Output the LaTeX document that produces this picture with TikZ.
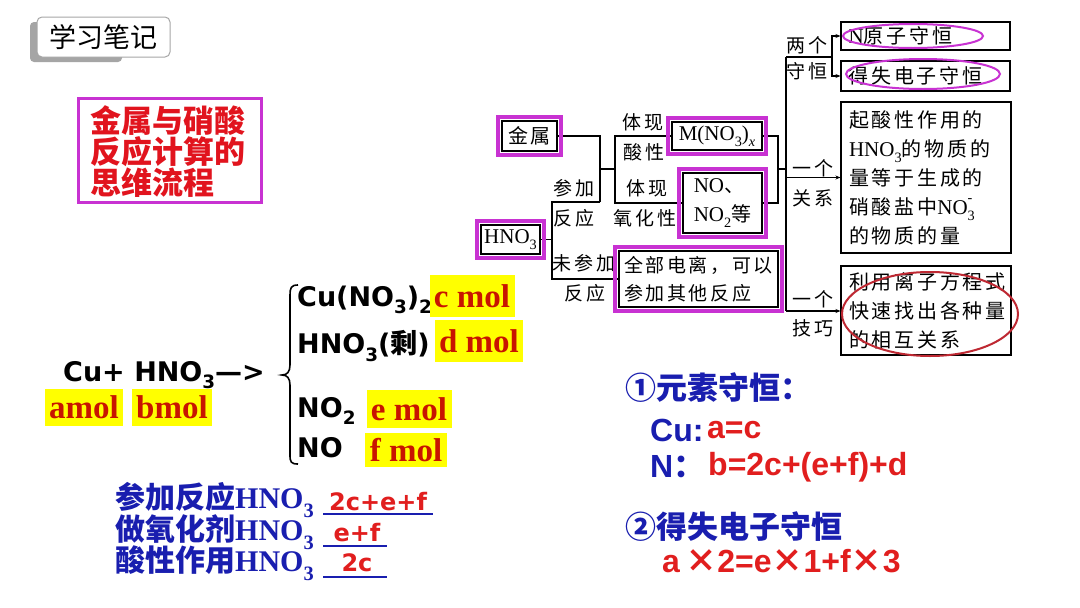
\documentclass[tikz,border=0pt]{standalone}
\usepackage{fontspec}
\usepackage{graphicx}
\usetikzlibrary{arrows.meta}
\setmainfont{Liberation Serif}
\newfontfamily\cjk{Noto Sans CJK SC}
\newfontfamily\cjkw[LetterSpace=14]{Noto Sans CJK SC}
\newfontfamily\dvs{DejaVu Sans}
\newfontfamily\lib{Liberation Sans}
\newcommand\fsz[2]{\fontsize{#1}{#2}\selectfont}
\newcommand\dn[1]{\raisebox{-0.28em}{\scalebox{0.68}{#1}}}
\newcommand\up[1]{\raisebox{0.55em}{\scalebox{0.68}{#1}}}
\newcommand\ser[1]{{\rmfamily\fsz{21}{24}#1}}
\definecolor{magc}{RGB}{200,50,210}
\definecolor{titred}{RGB}{225,20,30}
\definecolor{hiyel}{RGB}{255,255,0}
\definecolor{molred}{RGB}{200,20,0}
\definecolor{blu}{RGB}{25,30,175}
\definecolor{ansred}{RGB}{225,30,30}
\definecolor{ellred}{RGB}{190,40,50}
\definecolor{tabgray}{RGB}{165,165,165}
\tikzset{
  line/.style={line width=1.1pt, draw=black},
  arr/.style={line, -{Stealth[length=5pt,width=4pt]}},
  box/.style={draw=black, line width=1.1pt, inner sep=0pt, font=\cjkw\fsz{20}{29}},
  mag/.style={draw=magc, line width=3.5pt},
  lbl/.style={inner sep=0pt, font=\cjkw\fsz{19}{22}},
  yel/.style={fill=hiyel, inner sep=0pt, text=molred, font=\rmfamily\bfseries\fsz{33}{36}},
  chem/.style={inner sep=0pt, anchor=west, font=\dvs\bfseries\fsz{27}{30}},
  bl/.style={inner sep=0pt, anchor=west, text=blu},
  ans/.style={inner sep=0pt, text=ansred, font=\dvs\bfseries\fsz{24}{26}},
  rb/.style={inner sep=0pt, anchor=west, font=\lib\bfseries\fsz{32}{34}}
}
\begin{document}
\begin{tikzpicture}[x=1pt,y=-1pt]
\fill[white] (0,0) rectangle (1080,608);
\useasboundingbox (0,0) rectangle (1080,608);

% tab
\fill[tabgray, rounded corners=4pt] (30,22) rectangle (122,62);
\node[draw=gray!70, fill=white, line width=1pt, rounded corners=5pt, minimum width=133pt, minimum height=40pt, inner sep=0pt, font=\cjk\fsz{27}{30}] (tab) at (103.5,37) {学习笔记};

% title
\node[draw=magc, line width=3pt, minimum width=183pt, minimum height=104pt, inner sep=0pt] (titlebox) at (169.5,150) {};
\node[align=left, inner sep=0pt, text=titred, font=\cjk\bfseries\fsz{31}{31}] (title) at (167.5,152) {金属与硝酸\\反应计算的\\思维流程};

% equation
\node[chem] (eq) at (63,375) {Cu+ HNO\dn{3}—>};
\node[yel, minimum width=78pt, minimum height=37pt] (ya) at (84,407) {amol};
\node[yel, minimum width=80pt, minimum height=37pt] (yb) at (172,407) {bmol};

% brace
\draw[line width=1.6pt] (298,285) .. controls (291,285) and (290,288) .. (290,295) -- (290,365)
  .. controls (290,372) and (287,375) .. (282,375) .. controls (287,375) and (290,378) .. (290,385)
  -- (290,455) .. controls (290,462) and (291,464) .. (298,464);

% products
\node[chem] (p1) at (297,300) {Cu(NO\dn{3})\dn{2}};
\node[chem] (p2) at (297,346) {HNO\dn{3}({\cjk 剩})};
\node[chem] (p3) at (297,411) {NO\dn{2}};
\node[chem] (p4) at (297,448) {NO};
\node[yel, minimum width=85pt, minimum height=42pt] (yc) at (472,296) {c mol};
\node[yel, minimum width=88pt, minimum height=42pt] (yd) at (479,341) {d mol};
\node[yel, minimum width=85pt, minimum height=38pt] (ye) at (409,409) {e mol};
\node[yel, minimum width=82pt, minimum height=34pt] (yf) at (406,450) {f mol};

% bottom-left
\node[bl, font=\fsz{30}{32}] (b1) at (115,500) {{\cjk\bfseries 参加反应}{\bfseries HNO\dn{3}}};
\node[bl, font=\fsz{30}{32}] (b2) at (115,532) {{\cjk\bfseries 做氧化剂}{\bfseries HNO\dn{3}}};
\node[bl, font=\fsz{30}{32}] (b3) at (115,563) {{\cjk\bfseries 酸性作用}{\bfseries HNO\dn{3}}};
\coordinate (u1s) at (323,514); \coordinate (u1e) at (433,514);
\coordinate (u2s) at (323,546); \coordinate (u2e) at (387,546);
\coordinate (u3s) at (323,577); \coordinate (u3e) at (387,577);
\draw[blu, line width=1.5pt] (u1s) -- (u1e);
\draw[blu, line width=1.5pt] (u2s) -- (u2e);
\draw[blu, line width=1.5pt] (u3s) -- (u3e);
\node[ans] (a1) at (378,502) {2c+e+f};
\node[ans] (a2) at (357,533) {e+f};
\node[ans] (a3) at (357,563) {2c};

% bottom-right
\node[bl, font=\cjk\bfseries\fsz{31}{33}] (c1) at (625,388) {①元素守恒：};
\node[rb, text=blu] (cuL) at (650,430) {Cu:};
\node[rb, text=ansred] (cuR) at (707,430) {a=c};
\node[rb, text=blu] (nL) at (650,467) {N{\cjk ：}};
\node[rb, text=ansred] (nR) at (708,467) {b=2c+(e+f)+d};
\node[bl, font=\cjk\bfseries\fsz{31}{33}] (c2) at (625,527) {②得失电子守恒};
\node[rb, text=ansred] (eR) at (662,561) {a\,{\cjk ×}2=e{\cjk ×}1+f{\cjk ×}3};

% right tree boxes
\node[box, minimum width=55pt, minimum height=30pt] (metal) at (529.5,136) {金属};
\node[box, minimum width=59pt, minimum height=29pt] (hno3) at (510.5,239.5) {\ser{HNO\dn{3}}};
\node[box, minimum width=90pt, minimum height=28pt] (mno3) at (717,136) {\ser{M(NO\dn{3})\dn{\itshape x}}};
\node[box, minimum width=79pt, minimum height=60pt, align=left] (nobox) at (722.5,203) {\ser{NO}、\\\ser{NO\dn{2}}等};
\node[box, minimum width=159pt, minimum height=56pt, align=left, font=\cjkw\fsz{19}{28}] (allion) at (698.5,279) {全部电离，可以\\参加其他反应};
\node[box, minimum width=169pt, minimum height=28pt, text width=154pt, align=left] (r1) at (925.5,36) {\ser{N}原子守恒};
\node[box, minimum width=169pt, minimum height=30pt, text width=154pt, align=left] (r2) at (925.5,76) {得失电子守恒};
\node[box, minimum width=170pt, minimum height=151pt, text width=154pt, align=left] (r3) at (926,177.5)
  {起酸性作用的\\\ser{HNO\dn{3}}的物质的\\量等于生成的\\硝酸盐中\ser{NO\rlap{\up{-}}\dn{3}}\\的物质的量};
\node[box, minimum width=170pt, minimum height=89pt, text width=154pt, align=left] (r4) at (926,310.5)
  {利用离子方程式\\快速找出各种量\\的相互关系};

% tree labels
\node[lbl] (l1) at (643,122) {体现};
\node[lbl] (l2) at (644,152) {酸性};
\node[lbl] (l3) at (647,188) {体现};
\node[lbl] (l4) at (645,218) {氧化性};
\node[lbl] (l5) at (574,188) {参加};
\node[lbl] (l6) at (574,218) {反应};
\node[lbl] (l7) at (584,263) {未参加};
\node[lbl] (l8) at (585,293) {反应};
\node[lbl] (l9) at (807,45) {两个};
\node[lbl] (l10) at (807,71) {守恒};
\node[lbl] (l11) at (813,168) {一个};
\node[lbl] (l12) at (813,198) {关系};
\node[lbl] (l13) at (813,299) {一个};
\node[lbl] (l14) at (813,328) {技巧};

% tree connectors
\coordinate (jA) at (600,202);
\coordinate (jC) at (600,169);
\coordinate (jD) at (615,169);
\coordinate (t1) at (552,202);
\coordinate (t2) at (552,279);
\coordinate (jE) at (778,169);
\coordinate (jF) at (786,169);
\coordinate (vtop) at (786,57);
\coordinate (vbot) at (786,311);
\coordinate (fork) at (832,57);
\draw[line] (metal.east) -| (jA);
\draw[line] (jA) -- (t1) -- (t2) -- (allion.west);
\draw[line] (hno3.east) -- (hno3.east -| t1);
\draw[line] (jC) -- (jD);
\draw[line] (mno3.west) -| (jD);
\draw[line] (nobox.west) -| (jD);
\draw[line] (mno3.east) -| (jE);
\draw[line] (nobox.east) -| (jE);
\draw[line] (jE) -- (jF);
\draw[line] (vtop) -- (vbot);
\draw[line] (vtop) -- (fork);
\draw[arr] (fork) |- (r1.west);
\draw[arr] (fork) |- (r2.west);
\draw[arr] (r3.west -| vtop) -- (r3.west);
\draw[arr] (vbot) -- (vbot -| r4.west);

% magenta frames
\foreach \n in {metal,hno3,mno3,nobox,allion}{
  \draw[mag] ([shift={(-3.5pt,3.5pt)}]\n.north west) rectangle ([shift={(3.5pt,-3.5pt)}]\n.south east);
}

% ellipses
\draw[magc, line width=2pt] (913,36) ellipse [x radius=70, y radius=12];
\draw[magc, line width=2pt] (923,74) ellipse [x radius=77, y radius=15];
\draw[ellred, line width=2pt] (930,314) ellipse [x radius=88, y radius=42];
\end{tikzpicture}
\end{document}
